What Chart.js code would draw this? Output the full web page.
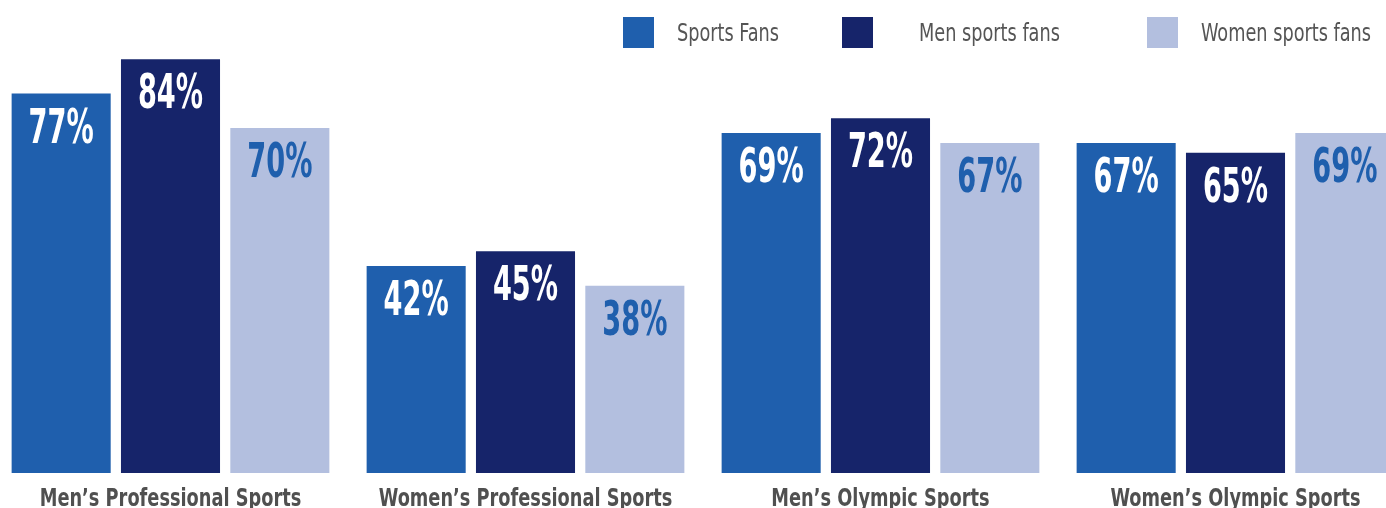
<!DOCTYPE html>
<html>
<head>
<meta charset="utf-8">
<script src="https://cdn.jsdelivr.net/npm/chart.js@4.4.1/dist/chart.umd.min.js"></script>
<style>
  html, body { margin: 0; padding: 0; background: #ffffff; overflow: hidden; width: 1386px; height: 508px; }
  #wrap { position: absolute; left: -7px; top: 0; width: 1420px; height: 508px; }
</style>
</head>
<body>
<div id="wrap"><canvas id="c"></canvas></div>
<script>
// Sports fandom by category, share of each fan group (%)
const categories = ["Men’s Professional Sports", "Women’s Professional Sports", "Men’s Olympic Sports", "Women’s Olympic Sports"];
const seriesNames = ["Sports Fans", "Men sports fans", "Women sports fans"];
const sportsFans = [77, 42, 69, 67];
const menFans = [84, 45, 72, 65];
const womenFans = [70, 38, 67, 69];

const barColors = ["#1f5fad", "#16246a", "#b3bfdf"];
const valueColors = ["#ffffff", "#ffffff", "#1f5fad"];
const condensed = "'DejaVu Sans Condensed', 'DejaVu Sans', sans-serif";

// Draws text squeezed horizontally to mimic a narrow display face
function squeezedText(ctx, text, x, y, sx) {
  ctx.save();
  ctx.translate(x, y);
  ctx.scale(sx, 1);
  ctx.fillText(text, 0, 0);
  ctx.restore();
}

// Percent labels inside the top of each bar
const valueLabels = {
  id: 'valueLabels',
  afterDatasetsDraw(chart) {
    const ctx = chart.ctx;
    chart.data.datasets.forEach((ds, di) => {
      chart.getDatasetMeta(di).data.forEach((bar, i) => {
        ctx.save();
        ctx.font = "bold 48px " + condensed;
        ctx.fillStyle = valueColors[di];
        ctx.textAlign = 'center';
        ctx.textBaseline = 'alphabetic';
        squeezedText(ctx, ds.data[i] + '%', bar.x, bar.y + 49, 0.63);
        ctx.restore();
      });
    });
  }
};

// Category names under each group, placed on the x scale's ticks
const categoryLabels = {
  id: 'categoryLabels',
  afterDraw(chart) {
    const ctx = chart.ctx;
    const xs = chart.scales.x;
    ctx.save();
    ctx.font = "bold 25px " + condensed;
    ctx.fillStyle = '#505050';
    ctx.textAlign = 'center';
    ctx.textBaseline = 'alphabetic';
    chart.data.labels.forEach((lab, i) => {
      squeezedText(ctx, lab, xs.getPixelForTick(i), xs.top + 33, 0.79);
    });
    ctx.restore();
  }
};

// Legend row along the top right
const topLegend = {
  id: 'topLegend',
  afterDraw(chart, args, opts) {
    const ctx = chart.ctx;
    chart.data.datasets.forEach((ds, di) => {
      ctx.save();
      ctx.fillStyle = ds.backgroundColor;
      ctx.fillRect(opts.boxX[di], 17, 31, 31);
      ctx.font = "24px " + condensed;
      ctx.fillStyle = '#555555';
      ctx.textAlign = 'left';
      ctx.textBaseline = 'alphabetic';
      squeezedText(ctx, ds.label, opts.textX[di], 41, 0.82);
      ctx.restore();
    });
  }
};

new Chart(document.getElementById('c'), {
  type: 'bar',
  data: {
    labels: categories,
    datasets: [
      { label: seriesNames[0], data: sportsFans, backgroundColor: barColors[0] },
      { label: seriesNames[1], data: menFans, backgroundColor: barColors[1] },
      { label: seriesNames[2], data: womenFans, backgroundColor: barColors[2] }
    ]
  },
  options: {
    responsive: true,
    maintainAspectRatio: false,
    animation: false,
    layout: { padding: 0 },
    datasets: { bar: { categoryPercentage: 0.924, barPercentage: 0.906, borderWidth: 0 } },
    plugins: {
      legend: { display: false },
      tooltip: { enabled: false },
      topLegend: { boxX: [630, 849, 1154], textX: [684, 926, 1208] }
    },
    scales: {
      x: {
        grid: { display: false, drawTicks: false },
        border: { display: false },
        ticks: { display: false, autoSkip: false },
        afterFit(scale) { scale.height = 35; }
      },
      y: {
        display: false,
        min: 0,
        max: 96
      }
    }
  },
  plugins: [valueLabels, categoryLabels, topLegend]
});
</script>
</body>
</html>
